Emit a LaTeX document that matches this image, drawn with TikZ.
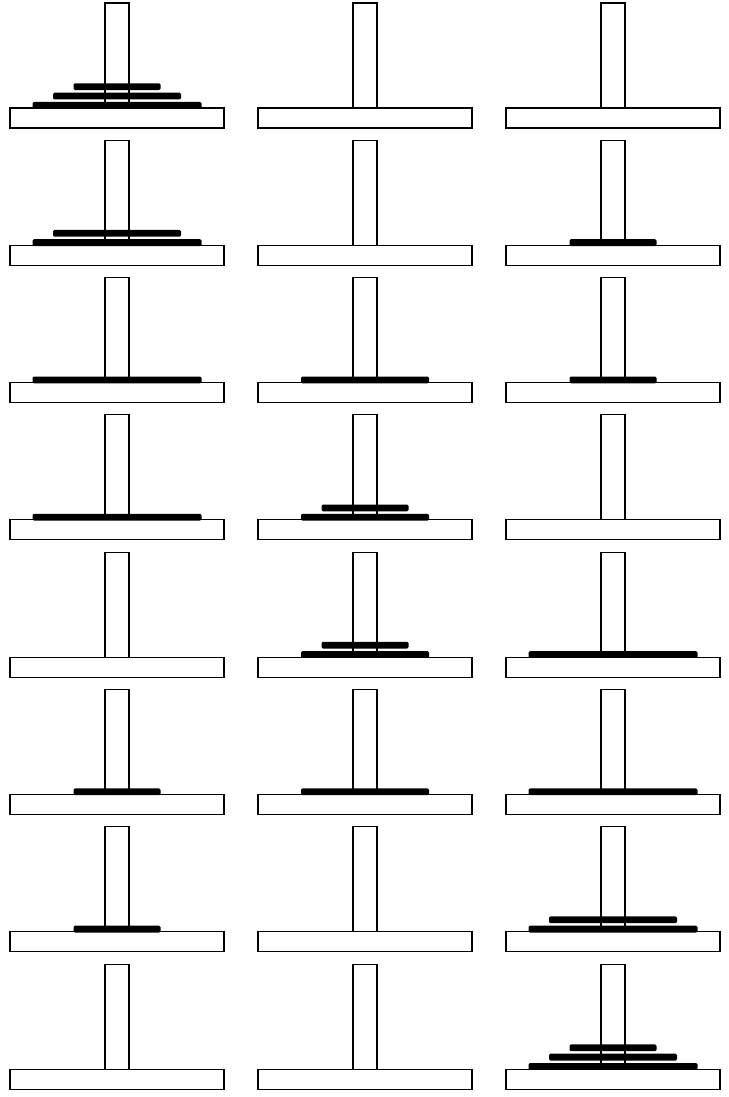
\documentclass[tikz,border=0pt]{standalone}
\usepackage{tikz}
\usetikzlibrary{calc}
\tikzset{
hanoibase/.style={draw=black, fill=white, line width=0.9pt},
hanoipole/.style={draw=black, line width=0.9pt},
hanoidisc/.style={fill=black, rounded corners=1.2pt}
}
\begin{document}
\begin{tikzpicture}[x=0.3mm, y=-0.3mm]
\useasboundingbox (0,0) rectangle (729,1097);
% row/column/discs from bottom to top (0 = empty peg)
\foreach \row/\col/\stack in {
  1/1/{3,2,1}, 1/2/{0},   1/3/{0},
  2/1/{3,2},   2/2/{0},   2/3/{1},
  3/1/{3},     3/2/{2},   3/3/{1},
  4/1/{3},     4/2/{2,1}, 4/3/{0},
  5/1/{0},     5/2/{2,1}, 5/3/{3},
  6/1/{1},     6/2/{2},   6/3/{3},
  7/1/{1},     7/2/{0},   7/3/{3,2},
  8/1/{0},     8/2/{0},   8/3/{3,2,1}} {
  \pgfmathsetmacro{\by}{108+137.3*(\row-1)}
  \pgfmathsetmacro{\cx}{117+248*(\col-1)}
  \coordinate (base-\row-\col) at (\cx,\by);
  \draw[hanoibase] ($(base-\row-\col)+(-107,0)$) rectangle ($(base-\row-\col)+(107,20)$);
  \foreach \dsize [count=\k] in \stack {
    \ifnum\dsize>0
      \pgfmathsetmacro{\hw}{23+20.5*\dsize}
      \pgfmathsetmacro{\dy}{-2.7-9.3*(\k-1)}
      \fill[hanoidisc] ($(base-\row-\col)+(-\hw,\dy-3.4)$) rectangle ($(base-\row-\col)+(\hw,\dy+3.4)$);
    \fi
  }
  \draw[hanoipole] ($(base-\row-\col)+(-12,0)$) rectangle ($(base-\row-\col)+(12,-105)$);
}
\end{tikzpicture}
\end{document}
